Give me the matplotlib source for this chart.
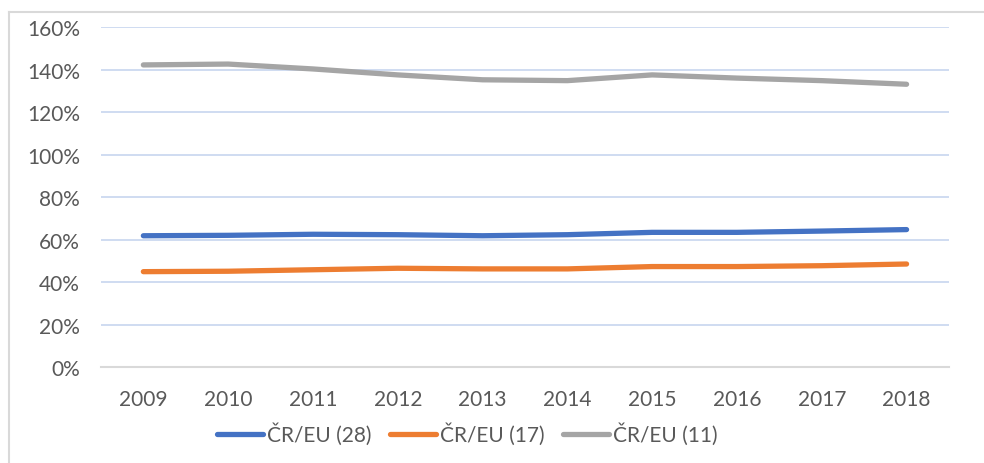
import matplotlib
matplotlib.use("Agg")
import matplotlib.pyplot as plt
from matplotlib.lines import Line2D
from matplotlib.ticker import PercentFormatter

years = ["2009", "2010", "2011", "2012", "2013", "2014", "2015", "2016", "2017", "2018"]
eu28 = [61.9, 62.1, 62.6, 62.4, 61.9, 62.4, 63.5, 63.5, 64.1, 64.8]
eu17 = [45.0, 45.2, 45.9, 46.6, 46.3, 46.3, 47.4, 47.4, 47.8, 48.6]
eu11 = [142.3, 142.7, 140.4, 137.6, 135.3, 134.9, 137.6, 136.1, 134.9, 133.2]
labels = ["ČR/EU (28)", "ČR/EU (17)", "ČR/EU (11)"]
colors = ["#4472C4", "#ED7D31", "#A5A5A5"]

plt.rcParams['font.family'] = ['Lato', 'DejaVu Sans']

fig = plt.figure(figsize=(9.84, 4.64), dpi=100)
ax = fig.add_axes([0.1026, 0.2063, 0.8618, 0.7327])

x = range(len(years))
for vals, lab, c in zip([eu28, eu17, eu11], labels, colors):
    ax.plot(x, [v / 100 for v in vals], color=c, lw=3.8, solid_capstyle='round', label=lab)

ax.set_xlim(-0.5, len(years) - 0.5)
ax.set_ylim(0, 1.6)
ax.set_yticks([i * 0.2 for i in range(9)])
ax.yaxis.set_major_formatter(PercentFormatter(1.0, decimals=0))
ax.set_xticks(list(x))
ax.set_xticklabels(years)
ax.grid(axis='y', color='#CCD9F0', lw=1.3)
ax.set_axisbelow(True)
for s in ['top', 'right', 'left']:
    ax.spines[s].set_visible(False)
ax.spines['bottom'].set_color('#D9D9D9')
ax.spines['bottom'].set_linewidth(1.5)
ax.tick_params(length=0, labelsize=15, colors='#595959')
ax.tick_params(axis='x', pad=16)
ax.tick_params(axis='y', pad=15)

leg = fig.legend(loc='center', bbox_to_anchor=(0.475, 0.0625), ncol=3, frameon=False,
                 fontsize=15, handlelength=2.2, handletextpad=0.2, columnspacing=0.9)
for t in leg.get_texts():
    t.set_color('#595959')

# chart frame (only top and left edge visible in the crop)
fig.add_artist(Line2D([9 / 984, 1], [1 - 13 / 464, 1 - 13 / 464], color='#D9D9D9', lw=1.5))
fig.add_artist(Line2D([9 / 984, 9 / 984], [0, 1 - 13 / 464], color='#D9D9D9', lw=1.5))

fig.savefig("out.png", dpi=100)
